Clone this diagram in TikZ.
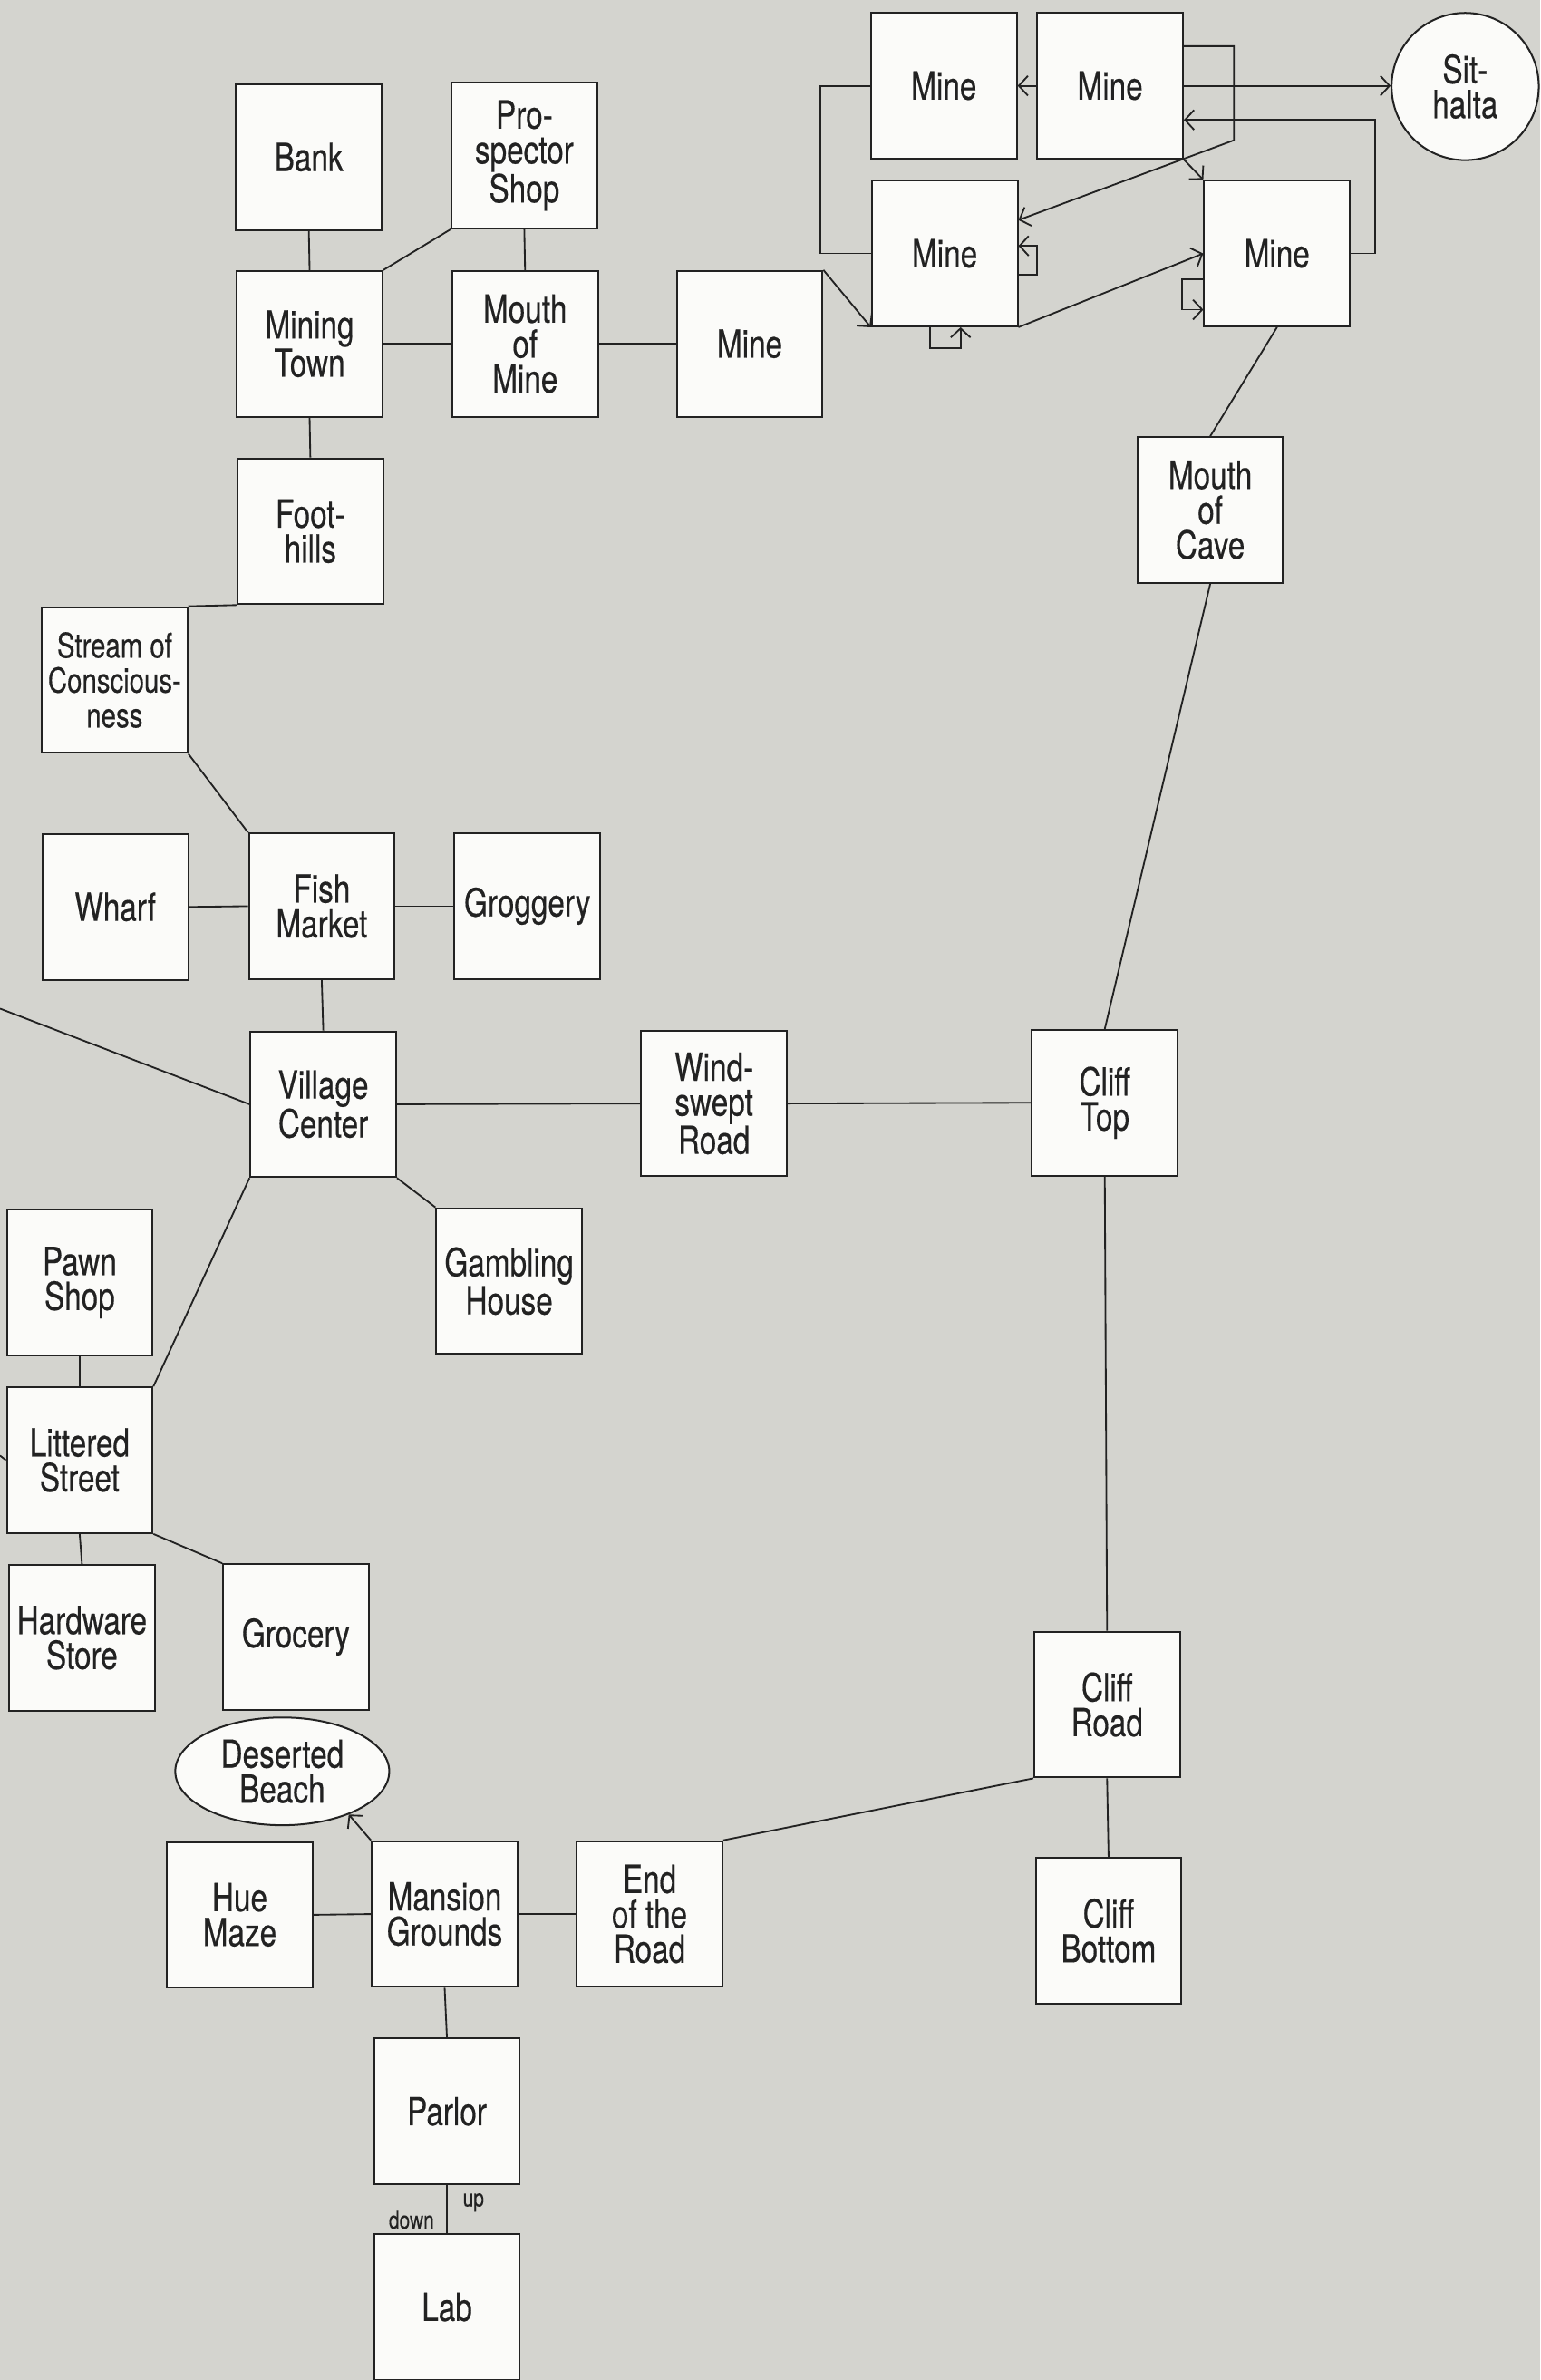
\documentclass[tikz,border=0pt]{standalone}
\usepackage{fontspec}
\setmainfont[FakeStretch=0.78,FakeBold=0.35]{TeX Gyre Heros}
\usetikzlibrary{arrows.meta,shapes.geometric}
\definecolor{bg}{RGB}{212,212,207}
\definecolor{boxfill}{RGB}{251,251,249}
\definecolor{ink}{RGB}{34,34,34}
\begin{document}
\begin{tikzpicture}[x=1pt,y=-1pt,
  room/.style={draw=ink, fill=boxfill, line width=1.2pt, minimum width=96pt, minimum height=96pt,
    inner sep=0pt, align=center, text=ink, font=\fontsize{25.5}{23}\selectfont},
  oval/.style={draw=ink, fill=boxfill, line width=1.2pt, ellipse, minimum width=141pt, minimum height=71pt,
    inner sep=0pt, align=center, text=ink, font=\fontsize{25.5}{23}\selectfont},
  disc/.style={draw=ink, fill=boxfill, line width=1.2pt, circle, minimum size=97pt,
    inner sep=0pt, align=center, text=ink, font=\fontsize{25.5}{23}\selectfont},
  link/.style={draw=ink, line width=1.1pt},
  arr/.style={link, -{Straight Barb[length=6pt,width=13pt]}},
  small/.style={inner sep=0pt, text=ink, font=\fontsize{16}{16}\selectfont}
]
\useasboundingbox (0,0) rectangle (1015,1568);
\clip (0,0) rectangle (1015,1568);
\fill[bg] (0,0) rectangle (1015,1568);

% free ends at left margin
\coordinate (offA) at (0,664.5);
\coordinate (offB) at (0,959);

% nodes
\node[room] (bank) at (203.5,103.5) {Bank};
\node[room] (prosp) at (345.5,102.5) {Pro-\\spector\\Shop};
\node[room] (mtown) at (204,226.5) {Mining\\Town};
\node[room] (mmouth) at (346,226.5) {Mouth\\of\\Mine};
\node[room] (mine0) at (494,226.5) {Mine};
\node[room] (foot) at (204.5,350) {Foot-\\hills};
\node[room, font=\fontsize{22.5}{23}\selectfont] (stream) at (75.5,448) {Stream of\\Conscious-\\ness};
\node[room] (wharf) at (76,597.5) {Wharf};
\node[room] (fish) at (212,597) {Fish\\Market};
\node[room] (grog) at (347.5,597) {Groggery};
\node[room] (village) at (213,727.5) {Village\\Center};
\node[room] (wind) at (470.5,727) {Wind-\\swept\\Road};
\node[room] (clifftop) at (728,726.5) {Cliff\\Top};
\node[room] (gamb) at (335.5,844) {Gambling\\House};
\node[room] (pawn) at (52.5,845) {Pawn\\Shop};
\node[room] (litter) at (52.5,962) {Littered\\Street};
\node[room] (hardw) at (54,1079) {Hardware\\Store};
\node[room] (groc) at (195,1078.5) {Grocery};
\node[oval] (beach) at (186,1167) {Deserted\\Beach};
\node[room] (hue) at (158,1261.5) {Hue\\Maze};
\node[room] (mansion) at (293,1261) {Mansion\\Grounds};
\node[room] (endroad) at (428,1261) {End\\of the\\Road};
\node[room] (cliffroad) at (729.5,1123) {Cliff\\Road};
\node[room] (cliffbot) at (730.5,1272) {Cliff\\Bottom};
\node[room] (parlor) at (294.5,1391) {Parlor};
\node[room] (lab) at (294.5,1520) {Lab};
\node[room] (cave) at (797.5,336) {Mouth\\of\\Cave};
\node[room] (mineTL) at (622,56.5) {Mine};
\node[room] (mineTR) at (731.5,56.5) {Mine};
\node[room] (mineML) at (622.5,167) {Mine};
\node[room] (mineR) at (841.5,167) {Mine};
\node[disc] (sit) at (965.5,57) {Sit-\\halta};

% town connectors
\draw[link] (bank.south) -- (mtown.north);
\draw[link] (mtown.north east) -- (prosp.south west);
\draw[link] (prosp.south) -- (mmouth.north);
\draw[link] (mtown.east) -- (mmouth.west);
\draw[link] (mmouth.east) -- (mine0.west);
\draw[link] (mtown.south) -- (foot.north);
\draw[link] (foot.south west) -- (stream.north east);
\draw[link] (stream.south east) -- (fish.north west);
\draw[link] (wharf.east) -- (fish.west);
\draw[link] (fish.east) -- (grog.west);
\draw[link] (fish.south) -- (village.north);
\draw[link] (village.west) -- (offA);
\draw[link] (village.east) -- (wind.west);
\draw[link] (wind.east) -- (clifftop.west);
\draw[link] (village.south west) -- (litter.north east);
\draw[link] (village.south east) -- (gamb.north west);
\draw[link] (pawn.south) -- (litter.north);
\draw[link] (litter.south) -- (hardw.north);
\draw[link] (litter.south east) -- (groc.north west);
\draw[link] (litter.west) -- (offB);

% mansion area
\draw[arr] (mansion.north west) -- (beach.-33);
\draw[link] (mansion.west) -- (hue.east);
\draw[link] (mansion.east) -- (endroad.west);
\draw[link] (mansion.south) -- (parlor.north);
\draw[link] (parlor.south) -- (lab.north)
  node[small, pos=0.36, right=10pt] {up}
  node[small, pos=0.72, left=8pt] {down};
\draw[link] (endroad.north east) -- (cliffroad.south west);
\draw[link] (cliffroad.south) -- (cliffbot.north);
\draw[link] (clifftop.south) -- (cliffroad.north);
\draw[link] (cave.south) -- (clifftop.north);
\draw[link] (mineR.south) -- (cave.north);

% mine maze
\draw[arr] (mineTR.west) -- (mineTL.east);
\draw[arr] (mineTR.east) -- (mineTR.east -| sit.west);
\draw[arr] ([yshift=-22.5pt]mineTR.north east) -- ++(33,0) -- ++(0,62) -- ([yshift=22pt]mineML.east);
\draw[arr] (mineR.east) -- ++(16,0) |- ([yshift=-22.5pt]mineTR.east);
\draw[arr] (mineTR.south east) -- (mineR.north west);
\draw[link] (mineTL.west) -- ++(-33,0) |- (mineML.west);
\draw[arr] ([yshift=-14pt]mineML.east) -- ++(12,0) |- ([yshift=5pt]mineML.east);
\draw[arr] ([xshift=-9.5pt]mineML.south) -- ++(0,14) -| ([xshift=10.5pt]mineML.south);
\draw[arr] ([yshift=-17pt]mineR.west) -- ++(-14,0) |- ([yshift=-37pt]mineR.west);
\draw[arr] (mineML.south east) -- (mineR.west);
\draw[arr] (mine0.north east) -- (mineML.south west);
\end{tikzpicture}
\end{document}
